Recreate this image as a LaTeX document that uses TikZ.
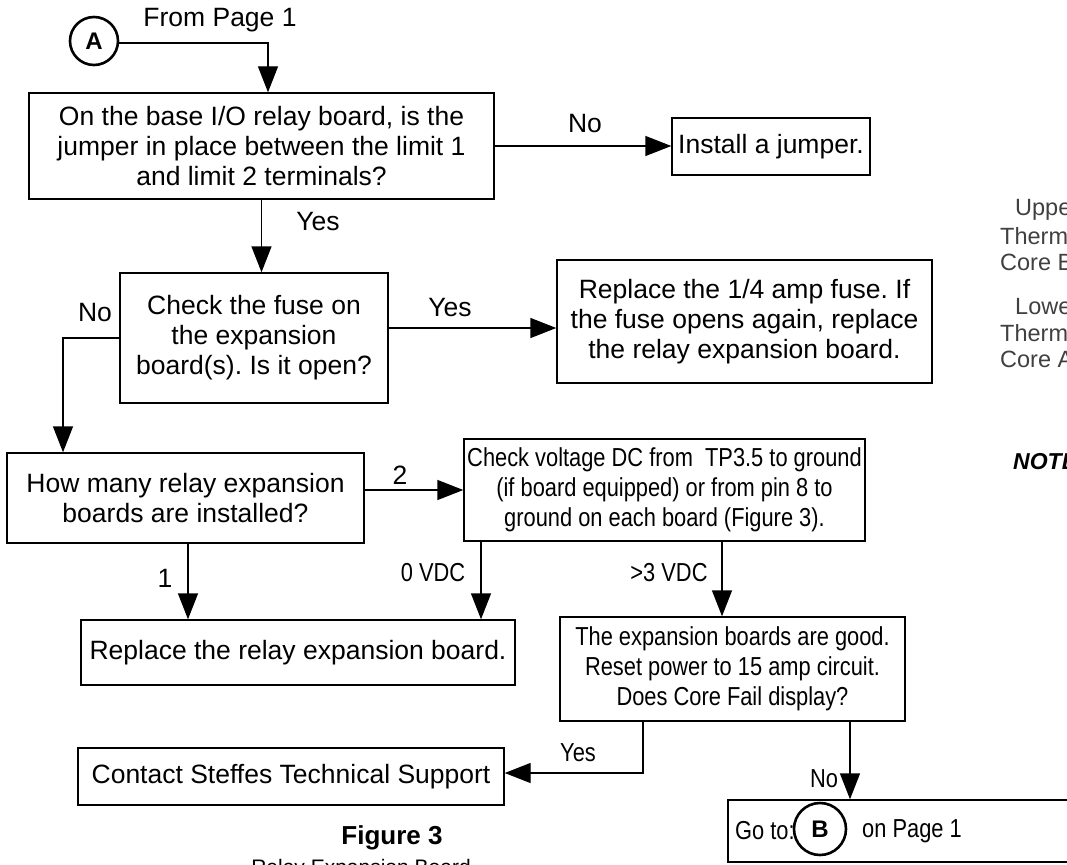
\documentclass[tikz,border=0pt]{standalone}
\usepackage{fontspec}
\setmainfont{Liberation Sans}
\newfontfamily\narrowfont[FakeStretch=0.84]{Liberation Sans}
\usetikzlibrary{arrows.meta}
\frenchspacing
\begin{document}
\begin{tikzpicture}[x=1pt,y=-1pt,
  txt/.style={font=\fontsize{26.5}{30}\selectfont},
  ntxt/.style={font=\narrowfont\fontsize{26}{30}\selectfont},
  box/.style={draw, line width=1.4pt, align=center, inner sep=0pt},
  lbl/.style={inner sep=0pt},
  conn/.style={line width=1.4pt, -{Triangle[length=26pt,width=20pt]}},
  circ/.style={draw, circle, line width=2.6pt, minimum size=48pt, inner sep=0pt, font=\bfseries\fontsize{24}{24}\selectfont},
  side/.style={inner sep=0pt, anchor=west, text=black!75, font=\fontsize{23.5}{24}\selectfont}
]
\useasboundingbox (0,0) rectangle (1067,864);
\clip (0,0) rectangle (1067,864);

% entry connector
\node[circ] (A) at (94,41) {A};
\node[lbl, txt] (fromp) at (220,20) {From Page 1};

% boxes
\node[box, txt, minimum width=465pt, minimum height=106pt] (b1) at (261.5,146)
  {On the base I/O relay board, is the\\ jumper in place between the limit 1\\ and limit 2 terminals?};
\node[box, txt, minimum width=198pt, minimum height=57pt] (jump) at (771,146.5) {Install a jumper.};
\node[box, txt, minimum width=268pt, minimum height=130pt] (b2) at (254,338)
  {Check the fuse on\\ the expansion\\ board(s). Is it open?};
\node[box, txt, minimum width=375pt, minimum height=123pt] (fuse) at (744.5,321.5)
  {Replace the 1/4 amp fuse. If\\ the fuse opens again, replace\\ the relay expansion board.};
\node[box, txt, minimum width=357pt, minimum height=90pt] (b3) at (185.5,498)
  {How many relay expansion\\ boards are installed?};
\node[box, ntxt, minimum width=401pt, minimum height=102pt] (b4) at (664.5,490)
  {Check voltage DC from\ \ TP3.5 to ground\\ (if board equipped) or from pin 8 to\\ ground on each board (Figure 3).};
\node[box, txt, minimum width=434pt, minimum height=65pt] (b5) at (298,652.5) {Replace the relay expansion board.};
\node[box, ntxt, minimum width=345pt, minimum height=104pt] (b6) at (732.5,669)
  {The expansion boards are good.\\ Reset power to 15 amp circuit.\\ Does Core Fail display?};
\node[box, txt, minimum width=426pt, minimum height=57pt] (contact) at (291,776.5) {Contact Steffes Technical Support};
\node[box, minimum width=362pt, minimum height=62pt] (bB) at (909,831) {};
\node[lbl, ntxt, anchor=west] (goto) at (735,831) {Go to:};
\node[circ, minimum size=52pt] (B) at (820,829) {B};
\node[lbl, ntxt, anchor=west] (onp) at (862,831) {on Page 1};

% connectors
\draw[conn] ([yshift=-2pt]A.east) -| ([xshift=6.5pt]b1.north);
\draw[conn] (b1.east) -- (b1.east -| jump.west);
\node[lbl, txt] at (585,124) {No};
\draw[conn] (b1.south) -- (b1.south |- b2.north);
\node[lbl, txt] at (318,222) {Yes};
\draw[conn] ([yshift=10pt]b2.east) -- ([yshift=10pt]b2.east -| fuse.west);
\node[lbl, txt] at (450,308) {Yes};
\draw[conn] (b2.west) -| ([xshift=-122.5pt]b3.north);
\node[lbl, txt] at (95,313) {No};
\draw[conn] (b4.west -| b3.east) -- (b4.west);
\node[lbl, txt] at (400,475) {2};
\draw[conn] ([xshift=2.5pt]b3.south) -- ([xshift=2.5pt]b3.south |- b5.north);
\node[lbl, txt] at (165,578) {1};
\draw[conn] ([xshift=-183.5pt]b4.south) -- ([xshift=-183.5pt]b4.south |- b5.north);
\node[lbl, ntxt] at (433,573) {0 VDC};
\draw[conn] ([xshift=57.5pt]b4.south) -- ([xshift=57.5pt]b4.south |- b6.north);
\node[lbl, ntxt] at (669,573) {>3 VDC};
\draw[conn] ([xshift=-89.5pt]b6.south) |- ([yshift=3.5pt]contact.east);
\node[lbl, ntxt] at (578,753) {Yes};
\draw[conn] ([xshift=117.5pt]b6.south) -- ([xshift=117.5pt]b6.south |- bB.north);
\node[lbl, ntxt] at (824,779) {No};

% caption
\node[lbl, font=\bfseries\fontsize{26}{30}\selectfont] (fig) at (392,838) {Figure 3};
\node[lbl, font=\fontsize{21}{24}\selectfont] (figsub) at (361,869) {Relay Expansion Board};

% partial side texts (cut by the right edge as in the reference)
\node[side] at (1015,210) {Upper};
\node[side] at (1000,236) {Thermostat};
\node[side] at (1000,262) {Core B};
\node[side] at (1015,307) {Lower};
\node[side] at (1000,333) {Thermostat};
\node[side] at (1000,359) {Core A};
\node[side, text=black, font=\bfseries\itshape\fontsize{23}{26}\selectfont] at (1013,462) {NOTE};
\end{tikzpicture}
\end{document}
